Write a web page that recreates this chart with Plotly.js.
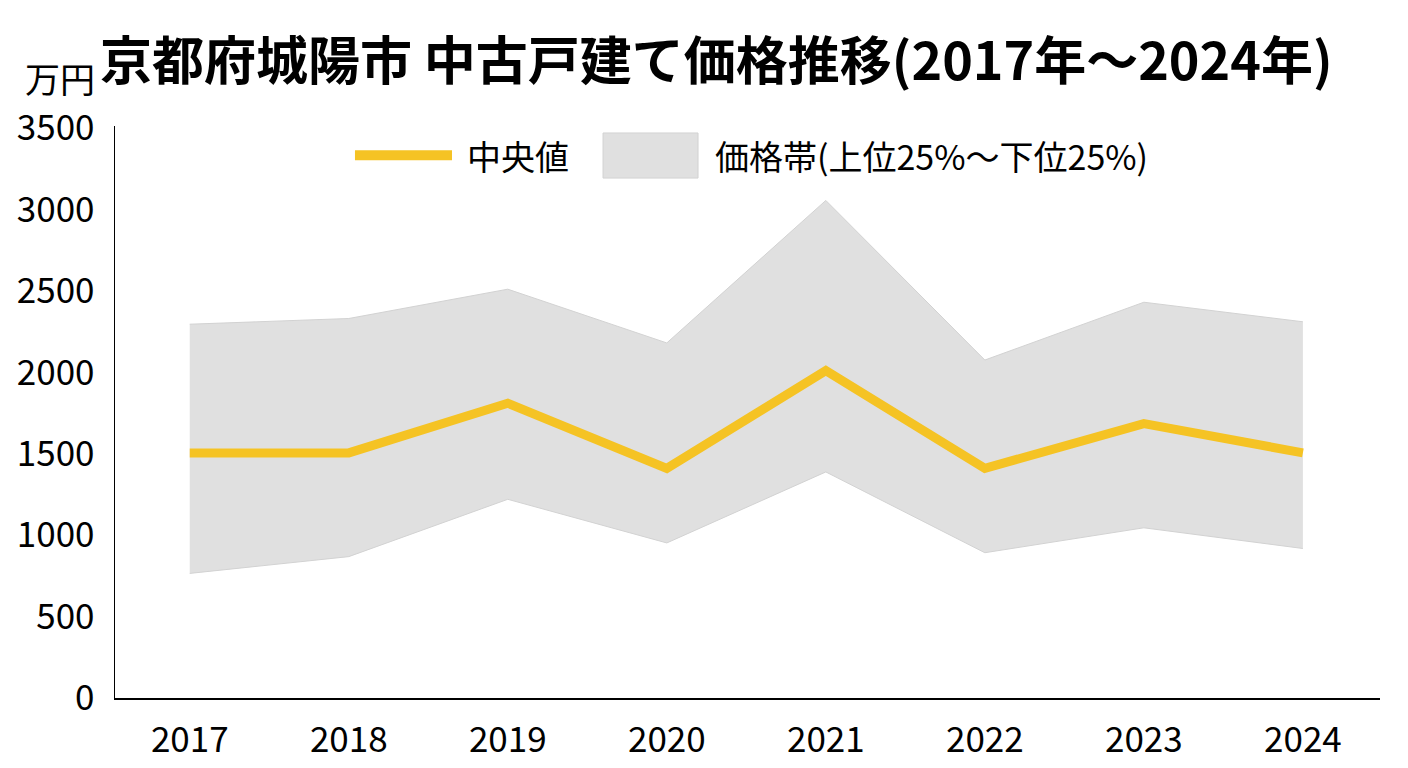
<!DOCTYPE html>
<html>
<head>
<meta charset="utf-8">
<script src="https://cdn.plot.ly/plotly-3.0.1.min.js"></script>
<style>
  html, body { margin: 0; padding: 0; background: #fff; }
  #chart { width: 1408px; height: 768px; }
</style>
</head>
<body>
<div id="chart"></div>
<script>
// 城陽市 中古戸建て 価格（万円）
const years = ['2017', '2018', '2019', '2020', '2021', '2022', '2023', '2024'];
const median = [1505, 1505, 1810, 1410, 2010, 1410, 1685, 1505];
const upper25 = [2295, 2330, 2510, 2180, 3055, 2075, 2430, 2310];
const lower25 = [765, 868, 1220, 952, 1388, 892, 1045, 918];

const font = 'Noto Sans CJK JP, Noto Sans, sans-serif';
const gold = '#f5c324';
const bandFill = '#e0e0e0';
const bandLine = '#d2d2d2';

const traces = [
    {
        x: years, y: lower25,
        type: 'scatter', mode: 'lines',
        line: { color: bandLine, width: 1 },
        hoverinfo: 'skip',
        showlegend: false
    },
    {
        x: years, y: upper25,
        type: 'scatter', mode: 'lines',
        fill: 'tonexty', fillcolor: bandFill,
        line: { color: bandLine, width: 1 },
        name: '価格帯(上位25%～下位25%)',
        showlegend: false
    },
    {
        x: years, y: median,
        type: 'scatter', mode: 'lines',
        line: { color: gold, width: 9 },
        name: '中央値',
        showlegend: false
    }
];

const layout = {
    width: 1408,
    height: 768,
    margin: { l: 115, r: 28, t: 126, b: 70 },
    paper_bgcolor: '#fff',
    plot_bgcolor: '#fff',
    font: { family: font, color: '#000' },
    title: {
        text: '<b>京都府城陽市 中古戸建て価格推移(2017年～2024年)</b>',
        font: { family: font, size: 52, color: '#000' },
        xref: 'container', yref: 'container',
        x: 100 / 1408, xanchor: 'left',
        y: 1 - 62 / 768, yanchor: 'middle'
    },
    xaxis: {
        type: 'category',
        range: [-0.47, 7.485],
        showline: true, linecolor: '#000', linewidth: 1.5,
        showgrid: false, zeroline: false,
        ticks: '',
        ticklabelstandoff: 10,
        tickfont: { family: font, size: 35, color: '#000' }
    },
    yaxis: {
        range: [0, 3512],
        tickvals: [0, 500, 1000, 1500, 2000, 2500, 3000, 3500],
        showline: true, linecolor: '#000', linewidth: 1.5,
        showgrid: false, zeroline: false,
        ticks: '',
        ticklabelstandoff: 12,
        tickfont: { family: font, size: 35, color: '#000' }
    },
    shapes: [
        // legend: median line sample
        {
            type: 'line', xref: 'paper', yref: 'paper',
            x0: 0.1897, x1: 0.2664, y0: 0.949, y1: 0.949,
            line: { color: gold, width: 10 }
        },
        // legend: band box
        {
            type: 'rect', xref: 'paper', yref: 'paper',
            x0: 0.3858, x1: 0.4609, y0: 0.909, y1: 0.9878,
            fillcolor: bandFill,
            line: { color: bandLine, width: 1 }
        }
    ],
    annotations: [
        {
            text: '万円', xref: 'paper', yref: 'paper',
            x: -0.0435, y: 1.084, xanchor: 'center', yanchor: 'middle',
            showarrow: false,
            font: { family: font, size: 35, color: '#000' }
        },
        {
            text: '中央値', xref: 'paper', yref: 'paper',
            x: 0.2767, y: 0.949, xanchor: 'left', yanchor: 'middle',
            showarrow: false,
            font: { family: font, size: 34, color: '#000' }
        },
        {
            text: '価格帯(上位25%～下位25%)', xref: 'paper', yref: 'paper',
            x: 0.4727, y: 0.949, xanchor: 'left', yanchor: 'middle',
            showarrow: false,
            font: { family: font, size: 34, color: '#000' }
        }
    ]
};

Plotly.newPlot('chart', traces, layout, { displayModeBar: false, staticPlot: true });
</script>
</body>
</html>
